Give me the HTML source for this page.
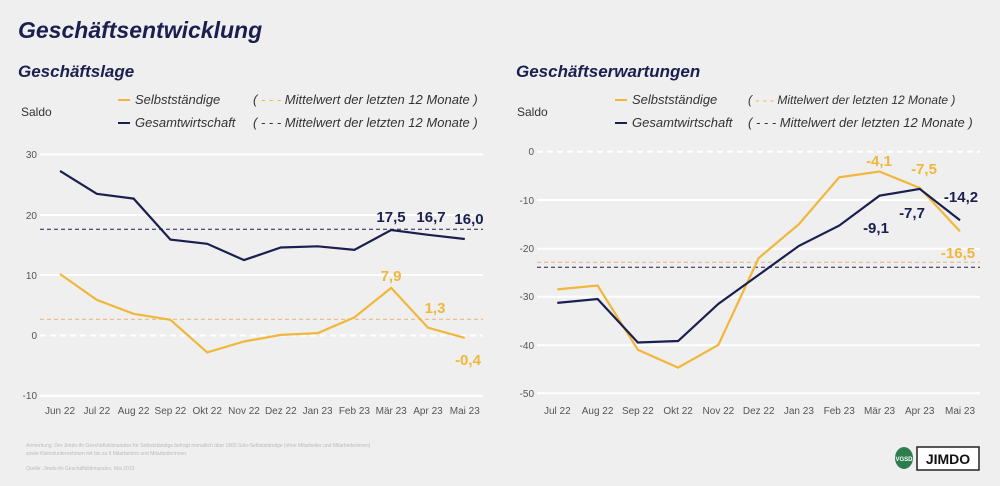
<!DOCTYPE html>
<html><head><meta charset="utf-8"><style>
body{margin:0;background:#efefef;width:1000px;height:481px;overflow:hidden;font-family:"Liberation Sans",sans-serif}
</style></head><body>
<svg width="1000" height="481" xmlns="http://www.w3.org/2000/svg" font-family="Liberation Sans, sans-serif">
<rect width="1000" height="481" fill="#efefef"/>
<text x="18" y="38" font-size="23" font-weight="bold" font-style="italic" fill="#1b1f4f">Geschäftsentwicklung</text>
<text x="18" y="77" font-size="17" font-weight="bold" font-style="italic" fill="#1b1f4f">Geschäftslage</text>
<text x="516" y="77" font-size="17" font-weight="bold" font-style="italic" fill="#1b1f4f">Geschäftserwartungen</text>

<!-- left legend -->
<g font-size="13" font-style="italic" fill="#333">
<text x="21" y="116" font-style="normal" font-size="12">Saldo</text>
<line x1="118" y1="100" x2="130" y2="100" stroke="#f0b73a" stroke-width="2"/>
<text x="135" y="104">Selbstständige</text>
<text x="253" y="104">( <tspan fill="#f0b73a">- - -</tspan> Mittelwert der letzten 12 Monate )</text>
<line x1="118" y1="123" x2="130" y2="123" stroke="#1b1f4f" stroke-width="2"/>
<text x="135" y="127">Gesamtwirtschaft</text>
<text x="253" y="127">( - - - Mittelwert der letzten 12 Monate )</text>
</g>
<!-- right legend -->
<g font-size="13" font-style="italic" fill="#333">
<text x="517" y="116" font-style="normal" font-size="12">Saldo</text>
<line x1="615" y1="100" x2="627" y2="100" stroke="#f0b73a" stroke-width="2"/>
<text x="632" y="104">Selbstständige</text>
<text x="748" y="104" font-size="12">( <tspan fill="#f0b73a">- - -</tspan> Mittelwert der letzten 12 Monate )</text>
<line x1="615" y1="123" x2="627" y2="123" stroke="#1b1f4f" stroke-width="2"/>
<text x="632" y="127">Gesamtwirtschaft</text>
<text x="748" y="127">( - - - Mittelwert der letzten 12 Monate )</text>
</g>

<!-- left grid -->
<g stroke="#fff" stroke-width="2">
<line x1="40" y1="154.5" x2="483" y2="154.5"/><line x1="40" y1="215" x2="483" y2="215"/>
<line x1="40" y1="275" x2="483" y2="275"/><line x1="40" y1="395.7" x2="483" y2="395.7"/>
<line x1="40" y1="335.5" x2="483" y2="335.5" stroke-dasharray="6,4"/>
</g>
<g font-size="10" fill="#555" text-anchor="end">
<text x="37" y="158">30</text><text x="37" y="219">20</text><text x="37" y="279">10</text><text x="37" y="339">0</text><text x="37" y="399">-10</text>
</g>
<g font-size="10" fill="#555" text-anchor="middle">
<text x="60" y="414">Jun 22</text><text x="96.8" y="414">Jul 22</text><text x="133.6" y="414">Aug 22</text><text x="170.4" y="414">Sep 22</text><text x="207.2" y="414">Okt 22</text><text x="244" y="414">Nov 22</text><text x="280.8" y="414">Dez 22</text><text x="317.6" y="414">Jan 23</text><text x="354.4" y="414">Feb 23</text><text x="391.2" y="414">Mär 23</text><text x="428" y="414">Apr 23</text><text x="464.8" y="414">Mai 23</text>
</g>
<line x1="40" y1="229.3" x2="483" y2="229.3" stroke="#1b1f4f" stroke-width="1" stroke-dasharray="4,3"/>
<line x1="40" y1="319.3" x2="483" y2="319.3" stroke="#e8b27a" stroke-width="1" stroke-dasharray="4,3"/>
<polyline fill="none" stroke="#1b1f4f" stroke-width="2.2" points="60,170.9 96.8,193.8 133.6,198.6 170.4,239.6 207.2,243.8 244,260.1 280.8,247.5 317.6,246.3 354.4,249.9 391.2,230 428,234.8 464.8,239"/>
<polyline fill="none" stroke="#f0b73a" stroke-width="2.2" points="60,274 96.8,299.9 133.6,313.8 170.4,319.8 207.2,352.4 244,341.5 280.8,334.9 317.6,333.1 354.4,317.4 391.2,287.9 428,327.7 464.8,337.9"/>
<g font-size="15" font-weight="bold" text-anchor="middle">
<text x="391" y="222" fill="#1b1f4f">17,5</text><text x="431" y="222" fill="#1b1f4f">16,7</text><text x="469" y="224" fill="#1b1f4f">16,0</text>
<text x="391" y="281" fill="#f0b73a">7,9</text><text x="435" y="313" fill="#f0b73a">1,3</text><text x="468" y="365" fill="#f0b73a">-0,4</text>
</g>

<!-- right grid -->
<g stroke="#fff" stroke-width="2">
<line x1="537" y1="200" x2="980" y2="200"/><line x1="537" y1="248.7" x2="980" y2="248.7"/>
<line x1="537" y1="296.7" x2="980" y2="296.7"/><line x1="537" y1="345.3" x2="980" y2="345.3"/><line x1="537" y1="393.3" x2="980" y2="393.3"/>
<line x1="537" y1="151.7" x2="980" y2="151.7" stroke-dasharray="6,4"/>
</g>
<g font-size="10" fill="#555" text-anchor="end">
<text x="534" y="155">0</text><text x="534" y="204">-10</text><text x="534" y="252">-20</text><text x="534" y="300">-30</text><text x="534" y="349">-40</text><text x="534" y="397">-50</text>
</g>
<g font-size="10" fill="#555" text-anchor="middle">
<text x="557.3" y="414">Jul 22</text><text x="597.6" y="414">Aug 22</text><text x="637.8" y="414">Sep 22</text><text x="678.1" y="414">Okt 22</text><text x="718.4" y="414">Nov 22</text><text x="758.7" y="414">Dez 22</text><text x="798.9" y="414">Jan 23</text><text x="839.2" y="414">Feb 23</text><text x="879.5" y="414">Mär 23</text><text x="919.7" y="414">Apr 23</text><text x="960" y="414">Mai 23</text>
</g>
<line x1="537" y1="262.3" x2="980" y2="262.3" stroke="#e8b27a" stroke-width="1" stroke-dasharray="4,3"/>
<line x1="537" y1="267.3" x2="980" y2="267.3" stroke="#1b1f4f" stroke-width="1" stroke-dasharray="4,3"/>
<polyline fill="none" stroke="#f0b73a" stroke-width="2.2" points="557.3,289.4 597.6,285.5 637.8,349.7 678.1,367.6 718.4,344.9 758.7,258 798.9,224.2 839.2,177.3 879.5,171.5 919.7,187.9 960,231.4"/>
<polyline fill="none" stroke="#1b1f4f" stroke-width="2.2" points="557.3,302.9 597.6,299 637.8,342.5 678.1,341 718.4,303.8 758.7,274.9 798.9,245.9 839.2,225.6 879.5,195.7 919.7,188.9 960,220.3"/>
<g font-size="15" font-weight="bold" text-anchor="middle">
<text x="879" y="166" fill="#f0b73a">-4,1</text><text x="924" y="174" fill="#f0b73a">-7,5</text><text x="958" y="258" fill="#f0b73a">-16,5</text>
<text x="961" y="202" fill="#1b1f4f">-14,2</text><text x="876" y="233" fill="#1b1f4f">-9,1</text><text x="912" y="218" fill="#1b1f4f">-7,7</text>
</g>

<!-- footer -->
<g font-size="5" fill="#bbb">
<text x="26" y="447">Anmerkung: Der Jimdo-ifo Geschäftsklimaindex für Selbstständige befragt monatlich über 1600 Solo-Selbstständige (ohne Mitarbeiter und Mitarbeiterinnen)</text>
<text x="26" y="455">sowie Kleinstunternehmen mit bis zu 9 Mitarbeitern und Mitarbeiterinnen.</text>
<text x="26" y="470">Quelle: Jimdo-ifo Geschäftsklimaindex, Mai 2023</text>
</g>
<ellipse cx="904" cy="458" rx="9" ry="11" fill="#2e7d4f"/>
<text x="904" y="461" font-size="6" font-weight="bold" fill="#fff" text-anchor="middle">VGSD</text>
<rect x="917" y="447" width="62" height="23" fill="#fff" stroke="#222" stroke-width="1.5"/>
<text x="948" y="464" font-size="14" font-weight="bold" fill="#111" text-anchor="middle">JIMDO</text>
</svg>
</body></html>
